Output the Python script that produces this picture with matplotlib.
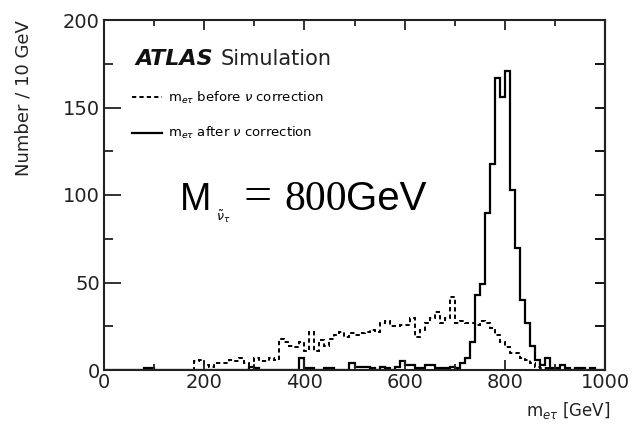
import numpy as np
import matplotlib
matplotlib.use("Agg")
from matplotlib import pyplot as plt
from matplotlib.lines import Line2D
from matplotlib.ticker import MultipleLocator

# bin edges, 10 GeV wide
edges = np.arange(0, 1001, 10)

# m_etau before nu correction (counts per 10 GeV bin, 0..1000)
before = [0, 0, 0, 0, 0, 0, 0, 0, 0, 0,
          0, 0, 0, 0, 0, 0, 0, 0, 5, 6,
          3, 2, 4, 4, 4, 6, 5, 7, 4, 2,
          7, 5, 5, 7, 6, 18, 16, 14, 13, 16,
          11, 22, 11, 17, 14, 18, 20, 22, 19, 21,
          20, 21, 22, 23, 22, 27, 28, 25, 25, 26,
          26, 30, 19, 23, 27, 30, 33, 27, 30, 42,
          27, 28, 27, 27, 26, 28, 27, 24, 20, 16,
          13, 10, 10, 7, 6, 4, 2, 1, 1, 0,
          0, 0, 0, 0, 0, 0, 0, 0, 0, 0]

# m_etau after nu correction
after = [0, 0, 0, 0, 0, 0, 0, 0, 1, 1,
         0, 0, 0, 0, 0, 0, 0, 0, 0, 0,
         0, 0, 0, 0, 0, 0, 0, 0, 0, 2,
         1, 0, 0, 0, 0, 0, 0, 0, 0, 7,
         1, 1, 0, 0, 1, 1, 0, 0, 0, 4,
         2, 2, 2, 1, 0, 2, 1, 0, 2, 5,
         3, 3, 1, 1, 3, 3, 1, 1, 1, 2,
         1, 4, 7, 16, 43, 49, 90, 118, 167, 156,
         171, 103, 70, 40, 27, 14, 6, 3, 7, 1,
         1, 3, 1, 0, 1, 1, 0, 1, 0, 0]

labels = [r"m$_{e\tau}$ before $\nu$ correction",
          r"m$_{e\tau}$ after $\nu$ correction"]

W, H = 634, 430
fig = plt.figure(figsize=(W / 100, H / 100), dpi=100)
ax = fig.add_axes([104 / W, 1 - 370 / H, 501 / W, 350 / H])

dash = (0, (2.2, 1.6))
ax.stairs(before, edges, color="black", lw=1.4, linestyle=dash, baseline=None)
ax.stairs(after, edges, color="black", lw=1.6, baseline=None)

ax.set_xlim(0, 1000)
ax.set_ylim(0, 200)

ax.xaxis.set_major_locator(MultipleLocator(200))
ax.xaxis.set_minor_locator(MultipleLocator(100))
ax.yaxis.set_major_locator(MultipleLocator(50))
ax.yaxis.set_minor_locator(MultipleLocator(25))

ax.tick_params(axis="x", which="both", direction="in", top=True, bottom=True,
               width=1.3, labelsize=14, pad=2, colors="#222222")
ax.tick_params(axis="x", which="major", length=7)
ax.tick_params(axis="x", which="minor", length=4.5)
ax.tick_params(axis="y", which="both", direction="in", left=True, right=False,
               width=1.3, labelsize=14, pad=3, colors="#222222")
ax.tick_params(axis="y", which="major", length=12)
ax.tick_params(axis="y", which="minor", length=6.5)

sec = ax.secondary_yaxis("right")
sec.set_yticks(np.arange(0, 201, 25))
sec.tick_params(direction="in", length=7, width=1.3, labelright=False)
sec.spines["right"].set_linewidth(1.5)

for s in ax.spines.values():
    s.set_linewidth(1.5)
    s.set_color("#222222")

ax.set_ylabel("Number / 10 GeV", fontsize=13, loc="top", color="#222222")
ax.yaxis.set_label_coords(-0.142, 1.0)
ax.set_xlabel(r"m$_{e\tau}$ [GeV]", fontsize=12, loc="right", color="#222222")
ax.xaxis.set_label_coords(1.01, -0.085)

handles = [Line2D([], [], color="black", lw=1.4, linestyle=dash),
           Line2D([], [], color="black", lw=1.6)]
ax.legend(handles, labels, loc="upper left", bbox_to_anchor=(0.056, 0.8),
          frameon=False, fontsize=9.5, handlelength=2.3, handletextpad=0.45,
          labelspacing=1.45, borderpad=0, borderaxespad=0)

# ATLAS label
fig.text(135 / W, 1 - 65 / H, "ATLAS", fontsize=16, fontweight="bold",
         fontstyle="italic", color="#111111")
fig.text(221 / W, 1 - 65 / H, "Simulation", fontsize=15, color="#222222")

# mass annotation
fig.text(180 / W, 1 - 210 / H, "M", family="Liberation Sans", fontsize=27,
         color="black", va="baseline")
fig.text(216 / W, 1 - 221 / H, r"$\tilde{\nu}_{\tau}$", fontsize=9, color="black")
fig.text(243 / W, 1 - 210 / H, "=", family="Liberation Serif", fontsize=36,
         color="black", va="baseline")
fig.text(284 / W, 1 - 210 / H, "800", family="Liberation Serif", fontsize=30,
         color="black", va="baseline")
fig.text(346 / W, 1 - 210 / H, "GeV", family="Liberation Sans", fontsize=29,
         color="black", va="baseline")

fig.savefig("out.png", dpi=100)
